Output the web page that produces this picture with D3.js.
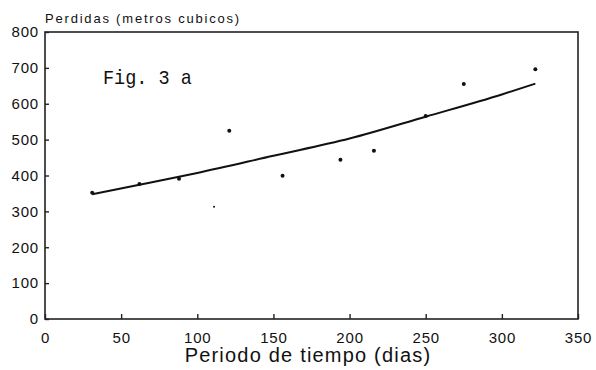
<!DOCTYPE html>
<html>
<head>
<meta charset="utf-8">
<script src="https://cdn.jsdelivr.net/npm/d3@7"></script>
<style>
  body { margin: 0; background: #fff; }
  svg { display: block; }
  .tick text { font-family: "Liberation Sans", Arial, sans-serif; font-size: 15px; letter-spacing: 0.8px; fill: #111; }
</style>
</head>
<body>
<svg width="596" height="370"></svg>
<script>
// puntos medidos
let dias = [31, 62, 88, 111, 121, 156, 194, 216, 250, 275, 322];
let perdidas = [352, 376, 391, 313, 525, 399, 444, 469, 566, 655, 696];

// curva de ajuste
let ajusteDias = [31, 62, 100, 150, 200, 250, 300, 322];
let ajustePerdidas = [348, 374, 407, 455, 503, 564, 626, 656];

let xTicks = [0, 50, 100, 150, 200, 250, 300, 350];
let yTicks = [0, 100, 200, 300, 400, 500, 600, 700, 800];

let svg = d3.select('svg');

let margin = { left: 45, top: 32, right: 18, bottom: 51 };
let width = 596 - margin.left - margin.right;
let height = 370 - margin.top - margin.bottom;

let x = d3.scaleLinear().domain([0, 350]).range([0, width]);
let y = d3.scaleLinear().domain([0, 800]).range([height, 0]);

let g = svg.append('g').attr('transform', `translate(${margin.left},${margin.top})`);

// marco
g.append('rect')
  .attr('width', width)
  .attr('height', height)
  .attr('fill', 'none')
  .attr('stroke', '#222')
  .attr('stroke-width', 1.6);

g.append('g')
  .attr('transform', `translate(0,${height})`)
  .call(d3.axisBottom(x).tickValues(xTicks).tickSize(-5).tickPadding(13))
  .call(ax => ax.select('.domain').remove())
  .call(ax => ax.selectAll('line').attr('stroke', '#222').attr('stroke-width', 1.4));

g.append('g')
  .call(d3.axisLeft(y).tickValues(yTicks).tickSize(-4).tickPadding(6))
  .call(ax => ax.select('.domain').remove())
  .call(ax => ax.selectAll('line').attr('stroke', '#222').attr('stroke-width', 1.4));

// curva
let line = d3.line()
  .x((d, i) => x(d))
  .y((d, i) => y(ajustePerdidas[i]))
  .curve(d3.curveMonotoneX);

g.append('path')
  .datum(ajusteDias)
  .attr('d', line)
  .attr('fill', 'none')
  .attr('stroke', '#111')
  .attr('stroke-width', 2);

g.selectAll('circle')
  .data(dias)
  .enter()
  .append('circle')
  .attr('cx', d => x(d))
  .attr('cy', (d, i) => y(perdidas[i]))
  .attr('r', (d, i) => i === 3 ? 1 : 2)
  .attr('fill', '#111');

// textos
svg.append('text')
  .attr('x', 45)
  .attr('y', 23)
  .attr('font-family', '"Liberation Sans", Arial, sans-serif')
  .attr('font-size', 13)
  .attr('letter-spacing', 1.8)
  .attr('fill', '#111')
  .text('Perdidas (metros cubicos)');

svg.append('text')
  .attr('x', 308)
  .attr('y', 362)
  .attr('text-anchor', 'middle')
  .attr('font-family', '"Liberation Sans", Arial, sans-serif')
  .attr('font-size', 20)
  .attr('letter-spacing', 1.2)
  .attr('fill', '#111')
  .text('Periodo de tiempo (dias)');

svg.append('text')
  .attr('x', 103)
  .attr('y', 84)
  .attr('font-family', '"Liberation Mono", "Courier New", monospace')
  .attr('font-size', 21)
  .attr('textLength', 89)
  .attr('lengthAdjust', 'spacingAndGlyphs')
  .attr('fill', '#111')
  .text('Fig. 3 a');
</script>
</body>
</html>
